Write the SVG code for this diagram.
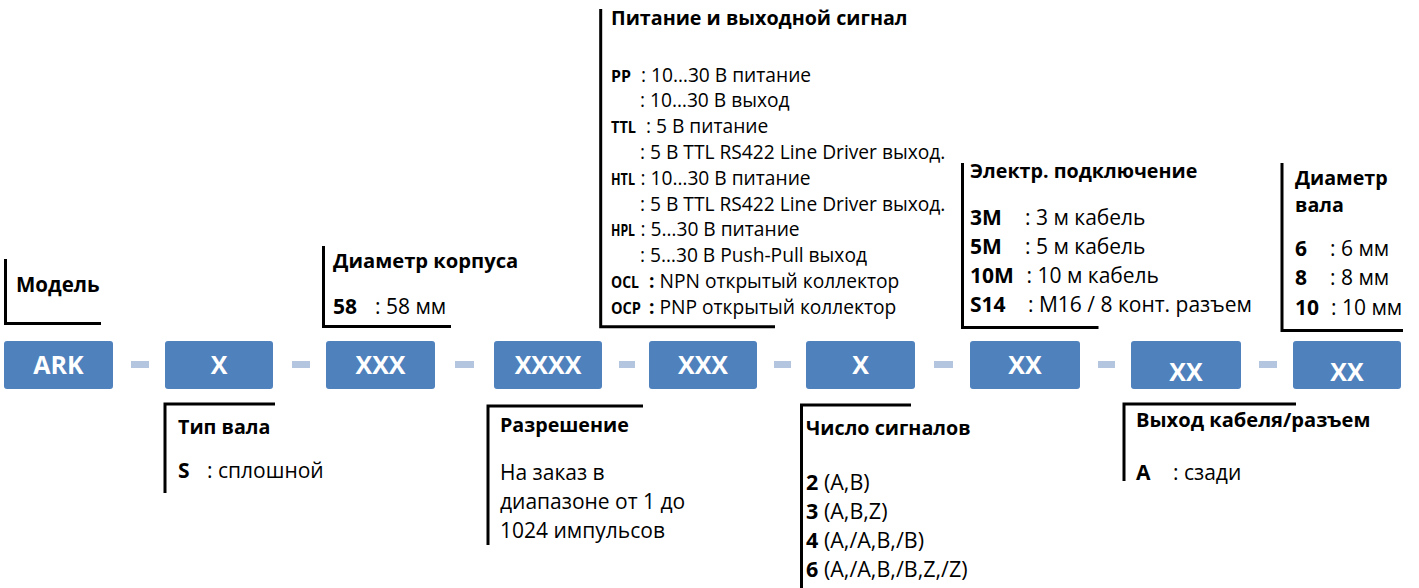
<svg xmlns="http://www.w3.org/2000/svg" width="1419" height="588" viewBox="0 0 1419 588">
<style>
text{font-family:"Open Sans","Noto Sans","DejaVu Sans",sans-serif;fill:#000}
.h{font-weight:bold;font-size:19.7px}
.s{font-size:19.2px}
.lb{font-weight:bold;font-size:15.5px}
.m{font-size:21px}
.b{font-weight:bold}
.box{fill:#4f81bd}
.bt{fill:#fff;font-weight:bold;font-size:25px;text-anchor:middle}
.dash{fill:#b4c5e0}
.br{fill:none;stroke:#000;stroke-width:3}
</style>
<rect width="1419" height="588" fill="#fff"/>
<g id="connectors">
<rect class="dash" x="131" y="361" width="18" height="7"/>
<rect class="dash" x="292" y="361" width="18" height="7"/>
<rect class="dash" x="455" y="361" width="19" height="7"/>
<rect class="dash" x="619" y="361" width="16" height="7"/>
<rect class="dash" x="774" y="361" width="17" height="7"/>
<rect class="dash" x="934" y="361" width="19" height="7"/>
<rect class="dash" x="1098" y="361" width="17" height="7"/>
<rect class="dash" x="1259" y="361" width="18" height="7"/>
</g>
<g id="box-ark"><rect class="box" x="4" y="341" width="109" height="48" rx="3"/><text class="bt" x="58.5" y="374">ARK</text></g>
<g id="box-shaft-type"><rect class="box" x="165" y="341" width="108" height="48" rx="3"/><text class="bt" x="219" y="374">X</text></g>
<g id="box-body-diameter"><rect class="box" x="326" y="341" width="109" height="48" rx="3"/><text class="bt" x="380.5" y="374">XXX</text></g>
<g id="box-resolution"><rect class="box" x="494" y="341" width="108" height="48" rx="3"/><text class="bt" x="548" y="374">XXXX</text></g>
<g id="box-power"><rect class="box" x="649" y="341" width="108" height="48" rx="3"/><text class="bt" x="703" y="374">XXX</text></g>
<g id="box-signals"><rect class="box" x="806" y="341" width="109" height="48" rx="3"/><text class="bt" x="860.5" y="374">X</text></g>
<g id="box-connection"><rect class="box" x="970" y="341" width="110" height="48" rx="3"/><text class="bt" x="1025" y="374">XX</text></g>
<g id="box-cable-exit"><rect class="box" x="1131" y="341" width="110" height="48" rx="3"/><text class="bt" x="1186" y="381">XX</text></g>
<g id="box-shaft-diameter"><rect class="box" x="1293" y="341" width="108" height="48" rx="3"/><text class="bt" x="1347" y="381">XX</text></g>

<g id="note-model">
<path class="br" d="M5.5,259V323.5H101"/>
<text class="h" x="16" y="292" style="font-size:20.5px">Модель</text>
</g>
<g id="note-body-diameter">
<path class="br" d="M323.5,246V326.5H451"/>
<text class="h" x="333" y="268" style="font-size:20.2px">Диаметр корпуса</text>
<text class="m" x="333" y="314"><tspan class="b">58</tspan><tspan x="375">: 58 мм</tspan></text>
</g>
<g id="note-power">
<path class="br" d="M600.7,9V326.7H775"/>
<text class="h" x="611" y="25">Питание и выходной сигнал</text>
<text class="s" x="611" y="81.5"><tspan class="lb" textLength="20" lengthAdjust="spacingAndGlyphs">PP</tspan><tspan x="641">: 10…30 В питание</tspan></text>
<text class="s" x="640" y="107.3">: 10…30 В выход</text>
<text class="s" x="611" y="133.1"><tspan class="lb" textLength="25" lengthAdjust="spacingAndGlyphs">TTL</tspan><tspan x="646">: 5 В питание</tspan></text>
<text class="s" x="640" y="158.9">: 5 В TTL RS422 Line Driver выход.</text>
<text class="s" x="611" y="184.7"><tspan class="lb" textLength="24" lengthAdjust="spacingAndGlyphs">HTL</tspan><tspan x="640.5">: 10…30 В питание</tspan></text>
<text class="s" x="640" y="210.5">: 5 В TTL RS422 Line Driver выход.</text>
<text class="s" x="611" y="236.3"><tspan class="lb" textLength="24" lengthAdjust="spacingAndGlyphs">HPL</tspan><tspan x="640.5">: 5…30 В питание</tspan></text>
<text class="s" x="640" y="262.1">: 5…30 В Push-Pull выход</text>
<text class="s" x="611" y="287.9"><tspan class="lb" textLength="28" lengthAdjust="spacingAndGlyphs">OCL</tspan><tspan x="649" class="b">:</tspan> NPN открытый коллектор</text>
<text class="s" x="611" y="313.7"><tspan class="lb" textLength="30" lengthAdjust="spacingAndGlyphs">OCP</tspan><tspan x="649" class="b">:</tspan> PNP открытый коллектор</text>
</g>
<g id="note-connection">
<path class="br" d="M962.5,163V327.5H1098.5"/>
<text class="h" x="970" y="178">Электр. подключение</text>
<text class="m" x="970" y="224.5"><tspan class="b">3M</tspan><tspan x="1025">: 3 м кабель</tspan></text>
<text class="m" x="970" y="253.5"><tspan class="b">5M</tspan><tspan x="1025">: 5 м кабель</tspan></text>
<text class="m" x="970" y="282.5"><tspan class="b">10M</tspan><tspan x="1026.5">: 10 м кабель</tspan></text>
<text class="m" x="970" y="311.5"><tspan class="b">S14</tspan><tspan x="1028">: M16 / 8 конт. разъем</tspan></text>
</g>
<g id="note-shaft-diameter">
<path class="br" d="M1282,163V330.5H1403"/>
<text class="h" x="1295" y="185">Диаметр</text>
<text class="h" x="1295" y="212">вала</text>
<text class="m" x="1295" y="256"><tspan class="b">6</tspan><tspan x="1330">: 6 мм</tspan></text>
<text class="m" x="1295" y="285"><tspan class="b">8</tspan><tspan x="1330">: 8 мм</tspan></text>
<text class="m" x="1295" y="315"><tspan class="b">10</tspan><tspan x="1331">: 10 мм</tspan></text>
</g>
<g id="note-shaft-type">
<path class="br" d="M275,404H165V493"/>
<text class="h" x="178" y="434">Тип вала</text>
<text class="m" x="178" y="478"><tspan class="b">S</tspan><tspan x="207">: сплошной</tspan></text>
</g>
<g id="note-resolution">
<path class="br" d="M643,406H488V545"/>
<text class="h" x="500" y="432">Разрешение</text>
<text class="m" x="500" y="480">На заказ в</text>
<text class="m" x="500" y="509">диапазоне от 1 до</text>
<text class="m" x="500" y="538">1024 импульсов</text>
</g>
<g id="note-signals">
<path class="br" d="M911,405H801.5V590"/>
<text class="h" x="806" y="435">Число сигналов</text>
<text class="m" x="806" y="490" style="font-size:21.5px"><tspan class="b">2</tspan> (A,B)</text>
<text class="m" x="806" y="519" style="font-size:21.5px"><tspan class="b">3</tspan> (A,B,Z)</text>
<text class="m" x="806" y="548" style="font-size:21.5px"><tspan class="b">4</tspan> (A,/A,B,/B)</text>
<text class="m" x="806" y="577" style="font-size:21.5px"><tspan class="b">6</tspan> (A,/A,B,/B,Z,/Z)</text>
</g>
<g id="note-cable-exit">
<path class="br" d="M1296,404H1124V481"/>
<text class="h" x="1136" y="427" style="font-size:20.1px">Выход кабеля/разъем</text>
<text class="m" x="1136" y="480"><tspan class="b">A</tspan><tspan x="1173">: сзади</tspan></text>
</g>
</svg>
